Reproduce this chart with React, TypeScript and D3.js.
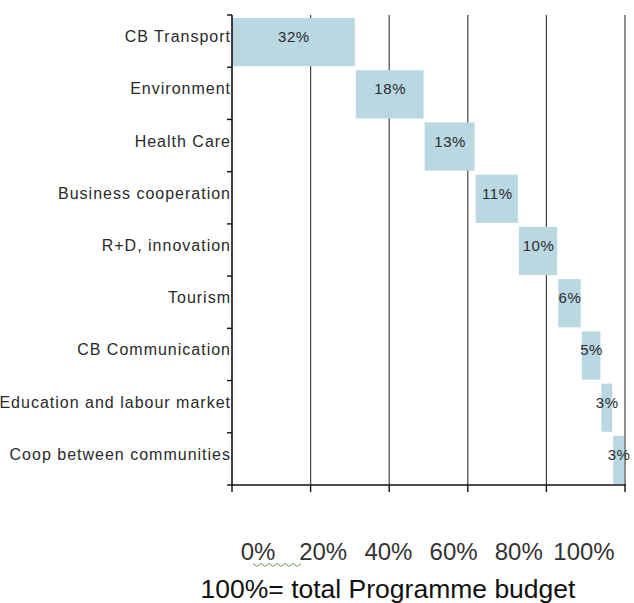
import React from "react";
import * as d3 from "d3";

const categories = [
  "CB Transport",
  "Environment",
  "Health Care",
  "Business cooperation",
  "R+D, innovation",
  "Tourism",
  "CB Communication",
  "Education and labour market",
  "Coop between communities",
];
const shares = [31.5, 17.5, 13, 11, 10, 6, 5, 3, 3];
const shareLabels = ["32%", "18%", "13%", "11%", "10%", "6%", "5%", "3%", "3%"];
const tickValues = [0, 20, 40, 60, 80, 100];
const tickLabels = ["0%", "20%", "40%", "60%", "80%", "100%"];
const caption = "100%= total Programme budget";

const W = 634;
const H = 603;
const FONT = "'Liberation Sans', Arial, Helvetica, sans-serif";
const BAR = "#b9d8e1";

export default function App() {
  const x = d3.scaleLinear().domain([0, 100]).range([232, 625]);
  const y = d3.scaleBand<string>().domain(categories).range([15, 485]).padding(0);
  const labelX = d3.scaleLinear().domain([0, 100]).range([258, 584]);

  const starts: number[] = [];
  let acc = 0;
  shares.forEach((s) => {
    starts.push(acc);
    acc += s;
  });

  const bw = y.bandwidth();
  const squiggle = d3.range(0, 13).map((i) => [253 + i * 4, 565 + (i % 2 === 0 ? -1.5 : 1.5)] as [number, number]);
  const squigglePath = d3.line()(squiggle) || "";

  return (
    <svg
      width={W}
      height={H}
      style={{ position: "absolute", left: 0, top: 0, background: "#fff" }}
      fontFamily={FONT}
    >
      {/* gridlines */}
      {tickValues.slice(1).map((t) => (
        <line key={"g" + t} x1={x(t)} x2={x(t)} y1={15} y2={485} stroke="#444" strokeWidth={1.2} />
      ))}
      {/* bars */}
      {categories.map((c, i) => (
        <rect
          key={"b" + c}
          x={x(starts[i])}
          y={(y(c) as number) + 3}
          width={x(starts[i] + shares[i]) - x(starts[i]) - 1}
          height={bw - 4}
          fill={BAR}
        />
      ))}
      {/* value labels */}
      {categories.map((c, i) => (
        <text
          key={"v" + c}
          x={(x(starts[i]) + x(starts[i] + shares[i])) / 2}
          y={(y(c) as number) + bw / 2 + 1}
          textAnchor="middle"
          fontSize={15}
          letterSpacing={0.6}
          fill="#2a2a2a"
        >
          {shareLabels[i]}
        </text>
      ))}
      {/* y axis */}
      <line x1={232} x2={232} y1={15} y2={485} stroke="#111" strokeWidth={1.6} />
      {d3.range(0, categories.length + 1).map((k) => (
        <line key={"yt" + k} x1={227} x2={232} y1={15 + k * bw} y2={15 + k * bw} stroke="#111" strokeWidth={1.4} />
      ))}
      {/* x axis */}
      <line x1={232} x2={626} y1={485} y2={485} stroke="#111" strokeWidth={1.6} />
      {tickValues.map((t) => (
        <line key={"xt" + t} x1={x(t)} x2={x(t)} y1={485} y2={492} stroke="#111" strokeWidth={1.4} />
      ))}
      {/* category labels */}
      {categories.map((c) => (
        <text
          key={"c" + c}
          x={231}
          y={(y(c) as number) + bw / 2 + 1}
          textAnchor="end"
          fontSize={16}
          letterSpacing={1}
          fill="#2a2a2a"
        >
          {c}
        </text>
      ))}
      {/* tick labels */}
      {tickValues.map((t, i) => (
        <text key={"tl" + t} x={labelX(t)} y={560} textAnchor="middle" fontSize={24} fill="#333">
          {tickLabels[i]}
        </text>
      ))}
      <path d={squigglePath} fill="none" stroke="#6f9a5e" strokeWidth={1} />
      <text x={388} y={598} textAnchor="middle" fontSize={26.5} fill="#111">
        {caption}
      </text>
    </svg>
  );
}
